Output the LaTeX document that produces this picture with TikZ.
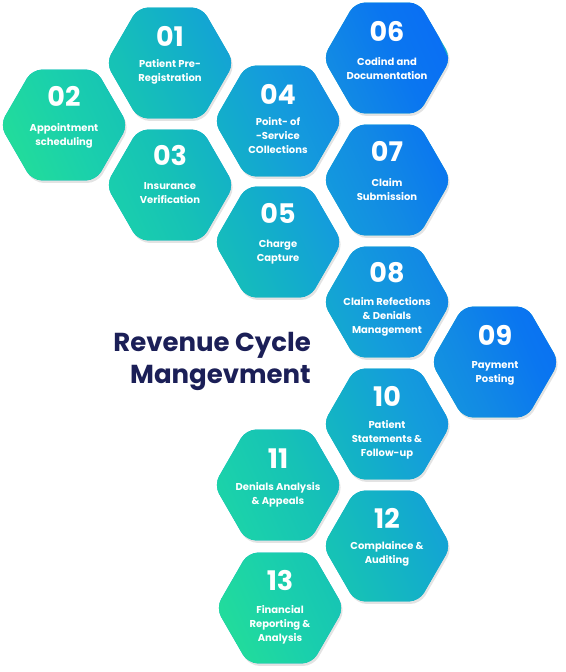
\documentclass[tikz,border=0pt]{standalone}
\usepackage{fontspec}
\setmainfont{Poppins}
\usetikzlibrary{shapes.geometric,shadows}
\definecolor{rcmgreen}{HTML}{22DC9B}
\definecolor{rcmgA}{HTML}{1AD0AC}
\definecolor{rcmgB}{HTML}{16C2B6}
\definecolor{rcmgC}{HTML}{13B0C8}
\definecolor{rcmgD}{HTML}{149CDC}
\definecolor{rcmgE}{HTML}{128AE4}
\definecolor{rcmgF}{HTML}{0A76F0}
\definecolor{rcmblue}{HTML}{0A6FF4}
\definecolor{rcmnavy}{HTML}{1B1F57}
\pgfdeclarehorizontalshading{rcmgrad}{100bp}{color(0bp)=(rcmgreen); color(25bp)=(rcmgreen);
  color(32.5bp)=(rcmgA); color(40bp)=(rcmgB); color(47.5bp)=(rcmgC); color(55bp)=(rcmgD);
  color(62.5bp)=(rcmgE); color(70bp)=(rcmgF); color(75bp)=(rcmblue); color(100bp)=(rcmblue)}
\tikzset{
  hex/.style={regular polygon,regular polygon sides=6,minimum size=128pt,inner sep=0pt,outer sep=0pt,
    rounded corners=10pt,fill=rcmgC,
    drop shadow={shadow xshift=1.5pt,shadow yshift=-2.5pt,opacity=.22}},
  num/.style={text=white,font=\bfseries\fontsize{27}{27}\selectfont,inner sep=0pt},
  lbl/.style={text=white,font=\bfseries\fontsize{10}{14}\selectfont,align=center,inner sep=0pt,anchor=north},
  title/.style={text=rcmnavy,font=\bfseries\fontsize{26}{32}\selectfont,align=right,inner sep=0pt}
}
\begin{document}
\begin{tikzpicture}[x=1pt,y=-1pt]
\useasboundingbox (0,0) rectangle (565,672);
% the honeycomb
\node[hex] (h01) at (170,63) {};
\node[hex] (h02) at (64,125) {};
\node[hex] (h03) at (170,185) {};
\node[hex] (h04) at (278,121) {};
\node[hex] (h05) at (278,242) {};
\node[hex] (h06) at (387,58) {};
\node[hex] (h07) at (387,180) {};
\node[hex] (h08) at (387,302) {};
\node[hex] (h09) at (495,362) {};
\node[hex] (h10) at (387,424) {};
\node[hex] (h11) at (278,485) {};
\node[hex] (h12) at (387,546) {};
\node[hex] (h13) at (280,608) {};
% one gradient over all of them
\begin{scope}
  \path[clip,rounded corners=10pt] \foreach \n in {01,02,03,04,05,06,07,08,09,10,11,12,13}
    {(h\n.corner 1)--(h\n.corner 2)--(h\n.corner 3)--(h\n.corner 4)--(h\n.corner 5)--(h\n.corner 6)--cycle};
  \begin{scope}[transform canvas={rotate=24}]
    \shade[shading=rcmgrad] (-51,-20) rectangle (386,860);
  \end{scope}
\end{scope}
% numbers
\node[num] (n01) at ([yshift=27pt]h01.center) {01};
\node[num] (n02) at ([yshift=29pt]h02.center) {02};
\node[num] (n03) at ([yshift=30pt]h03.center) {03};
\node[num] (n04) at ([yshift=27pt]h04.center) {04};
\node[num] (n05) at ([yshift=29pt]h05.center) {05};
\node[num] (n06) at ([yshift=27pt]h06.center) {06};
\node[num] (n07) at ([yshift=29pt]h07.center) {07};
\node[num] (n08) at ([yshift=29pt]h08.center) {08};
\node[num] (n09) at ([yshift=27pt]h09.center) {09};
\node[num] (n10) at ([yshift=28pt]h10.center) {10};
\node[num] (n11) at ([yshift=26pt]h11.center) {11};
\node[num] (n12) at ([yshift=28pt]h12.center) {12};
\node[num] (n13) at ([yshift=28pt]h13.center) {13};
% labels
\node[lbl] (t01) at ([yshift=4pt]h01.center) {Patient Pre-\\Registration};
\node[lbl] (t02) at ([yshift=2pt]h02.center) {Appointment\\scheduling};
\node[lbl] (t03) at ([yshift=3pt]h03.center) {Insurance\\Verification};
\node[lbl] (t04) at ([yshift=4pt]h04.center) {Point- of\\-Service\\COllections};
\node[lbl] (t05) at ([yshift=2pt]h05.center) {Charge\\Capture};
\node[lbl] (t06) at ([yshift=1pt]h06.center) {Codind and\\Documentation};
\node[lbl] (t07) at ([yshift=2pt]h07.center) {Claim\\Submission};
\node[lbl] (t08) at ([yshift=5pt]h08.center) {Claim Refections\\\& Denials\\Management};
\node[lbl] (t09) at ([yshift=1pt]h09.center) {Payment\\Posting};
\node[lbl] (t10) at ([yshift=4pt]h10.center) {Patient\\Statements \&\\Follow-up};
\node[lbl] (t11) at ([yshift=3pt]h11.center) {Denials Analysis\\\& Appeals};
\node[lbl] (t12) at ([yshift=5pt]h12.center) {Complaince \&\\Auditing};
\node[lbl] (t13) at ([yshift=3pt]h13.center) {Financial\\Reporting \&\\Analysis};
% title
\node[title,anchor=east] (ttl) at (311,361) {Revenue Cycle\\Mangevment};
\end{tikzpicture}
\end{document}
